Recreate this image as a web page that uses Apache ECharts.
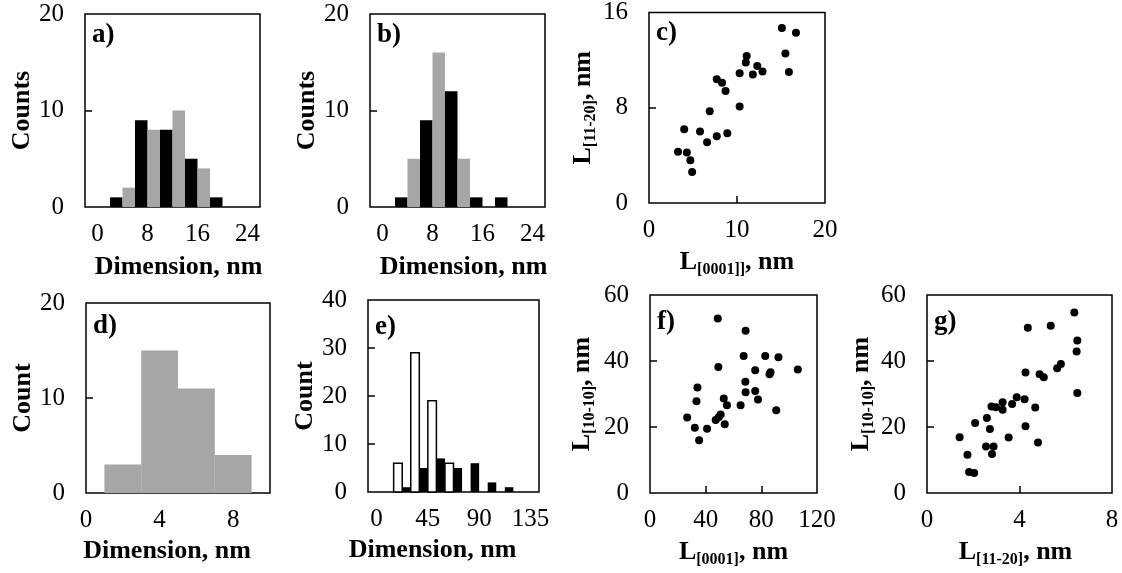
<!DOCTYPE html>
<html>
<head>
<meta charset="utf-8">
<script src="https://cdn.jsdelivr.net/npm/echarts@6/dist/echarts.min.js"></script>
<style>
html,body{margin:0;padding:0;background:#fff;}
#chart{width:1122px;height:573px;}
</style>
</head>
<body>
<div id="chart"></div>
<script>
// ---------- DATA ----------
// panel a (histogram, bins of 2 nm)
const aBlackStart = [2, 6, 10, 14, 18];
const aBlackCount = [1, 9, 8, 5, 1];
const aGrayStart = [4, 8, 12, 16];
const aGrayCount = [2, 8, 10, 4];
// panel b
const bBlackStart = [2, 6, 10, 14, 18];
const bBlackCount = [1, 9, 12, 1, 1];
const bGrayStart = [4, 8, 12, 16];
const bGrayCount = [5, 16, 5, 0];
const abBinWidth = 2;
// panel c (scatter)
const cX = [3.3, 4.0, 4.3, 4.7, 4.9, 5.8, 6.6, 6.9, 7.7, 7.7, 8.3, 8.7, 8.9, 10.3, 10.3, 11.0, 11.1, 11.8, 12.3, 12.9, 15.1, 15.5, 15.9, 16.7];
const cY = [4.3, 6.2, 4.25, 3.6, 2.6, 6.0, 5.1, 7.7, 5.6, 10.4, 10.1, 9.4, 5.85, 8.1, 10.9, 11.8, 12.35, 10.8, 11.5, 11.05, 14.7, 12.55, 11.0, 14.3];
// panel d (histogram, bins of 2 nm)
const dStart = [1, 3, 5, 7];
const dCount = [3, 15, 11, 4];
const dBinWidth = 2;
// panel e (histogram, half-bins of 7.5 nm)
const eWhiteStart = [15, 30, 45, 60];
const eWhiteCount = [6, 29, 19, 6];
const eBlackStart = [22.5, 37.5, 52.5, 67.5, 82.5, 97.5, 112.5];
const eBlackCount = [1, 5, 7, 5, 6, 2, 1];
const eBinWidth = 7.5;
// panel f (scatter)
const fX = [26.7, 32.2, 33.4, 34.1, 35.3, 41.0, 47.2, 48.7, 49.1, 49.5, 50.8, 53.0, 53.7, 55.3, 65.1, 67.3, 68.7, 68.5, 68.7, 75.6, 75.6, 77.6, 82.8, 85.9, 86.6, 90.7, 92.3, 106.2];
const fY = [22.9, 19.8, 27.8, 32.0, 16.0, 19.5, 22.1, 52.9, 38.2, 23.0, 23.8, 28.6, 20.8, 26.6, 26.6, 41.5, 49.2, 33.7, 30.5, 30.9, 37.2, 28.3, 41.5, 36.0, 36.6, 25.1, 41.1, 37.4];
// panel g (scatter)
const gX = [1.41, 1.75, 1.82, 2.04, 2.08, 2.55, 2.59, 2.72, 2.79, 2.88, 2.81, 2.98, 3.27, 3.27, 3.53, 3.68, 3.88, 4.22, 4.26, 4.26, 4.36, 4.68, 4.80, 4.87, 5.05, 5.35, 5.63, 5.79, 6.37, 6.50, 6.47, 6.50];
const gY = [16.9, 11.6, 6.4, 6.05, 21.2, 14.1, 22.7, 19.4, 26.2, 14.1, 11.8, 26.0, 27.5, 25.2, 16.8, 27.0, 29.0, 28.4, 36.5, 20.2, 50.1, 25.9, 15.3, 36.0, 35.1, 50.7, 37.8, 39.1, 54.7, 46.2, 42.9, 30.3];

// tick labels
const abXLabels = [0, 8, 16, 24];
const abYLabels = [0, 10, 20];
const cXLabels = [0, 10, 20];
const cYLabels = [0, 8, 16];
const dXLabels = [0, 4, 8];
const dYLabels = [0, 10, 20];
const eXLabels = [0, 45, 90, 135];
const eYLabels = [0, 10, 20, 30, 40];
const fXLabels = [0, 40, 80, 120];
const fgYLabels = [0, 20, 40, 60];
const gXLabels = [0, 4, 8];

// ---------- LAYOUT ----------
const FONT = 'Liberation Serif';
const TICK_FS = 25;
const grids = [
  {left: 85, top: 14, width: 175, height: 193},   // a
  {left: 370, top: 14, width: 175, height: 193},  // b
  {left: 649, top: 12, width: 176, height: 191},  // c
  {left: 86, top: 303, width: 184, height: 190},  // d
  {left: 368, top: 300, width: 171, height: 192}, // e
  {left: 650, top: 295, width: 167, height: 198}, // f
  {left: 927, top: 295, width: 185, height: 198}  // g
];

const rich = {
  m: {fontFamily: FONT, fontSize: 26, fontWeight: 'bold', color: '#000', lineHeight: 32, verticalAlign: 'middle'},
  s: {fontFamily: FONT, fontSize: 16, fontWeight: 'bold', color: '#000', lineHeight: 16, verticalAlign: 'bottom'}
};

function xAxis(i, min, max, labels, ticks, name, gap, shift) {
  const pad = shift >= 0 ? [0, 0, 0, 2 * shift] : [0, -2 * shift, 0, 0];
  return {
    gridIndex: i, type: 'value', min: min, max: max,
    axisLine: {show: false, onZero: false}, splitLine: {show: false},
    axisTick: ticks.length ? {show: true, inside: true, length: 7, customValues: ticks, lineStyle: {color: '#000', width: 1.5}} : {show: false},
    axisLabel: {customValues: labels, fontFamily: FONT, fontSize: TICK_FS, color: '#000', margin: 15},
    name: name, nameLocation: 'middle', nameGap: gap,
    nameTextStyle: {fontFamily: FONT, fontSize: 26, fontWeight: 'bold', color: '#000', rich: rich, padding: pad}
  };
}
function yAxis(i, min, max, labels, ticks, name, gap) {
  return {
    gridIndex: i, type: 'value', min: min, max: max,
    axisLine: {show: false, onZero: false}, splitLine: {show: false},
    axisTick: ticks.length ? {show: true, inside: true, length: 7, customValues: ticks, lineStyle: {color: '#000', width: 1.5}} : {show: false},
    axisLabel: {customValues: labels, fontFamily: FONT, fontSize: TICK_FS, color: '#000', margin: 21},
    name: name, nameLocation: 'middle', nameGap: gap, nameRotate: 90,
    nameTextStyle: {fontFamily: FONT, fontSize: 26, fontWeight: 'bold', color: '#000', rich: rich}
  };
}

function bars(i, starts, counts, width, fill, stroke) {
  return {
    type: 'custom', xAxisIndex: i, yAxisIndex: i,
    data: starts.map((s, k) => [s, s + width, counts[k]]),
    encode: {x: [0, 1], y: 2},
    renderItem: function (params, api) {
      const p0 = api.coord([api.value(0), api.value(2)]);
      const p1 = api.coord([api.value(1), 0]);
      return {
        type: 'rect',
        shape: {x: p0[0], y: p0[1], width: p1[0] - p0[0], height: p1[1] - p0[1]},
        style: {fill: fill, stroke: stroke || null, lineWidth: stroke ? 1.5 : 0}
      };
    }
  };
}
function dots(i, xs, ys) {
  return {
    type: 'scatter', xAxisIndex: i, yAxisIndex: i,
    data: xs.map((x, k) => [x, ys[k]]),
    symbol: 'circle', symbolSize: 8,
    itemStyle: {color: '#000', opacity: 1}
  };
}

const GRAY = '#a6a6a6';
const option = {
  animation: false,
  backgroundColor: '#fff',
  grid: grids.map(g => Object.assign({show: true, borderColor: '#000', borderWidth: 1.5, backgroundColor: 'rgba(0,0,0,0)'}, g)),
  xAxis: [
    xAxis(0, -2, 26, abXLabels, [], 'Dimension, nm', 47, 6),
    xAxis(1, -2, 26, abXLabels, [], 'Dimension, nm', 47, 6),
    xAxis(2, 0, 20, cXLabels, [10], '{m|L}{s|[0001]]}{m|, nm}', 43, 0),
    xAxis(3, 0, 10, dXLabels, [], 'Dimension, nm', 45, -11),
    xAxis(4, -7.5, 142.5, eXLabels, [], 'Dimension, nm', 45, -21),
    xAxis(5, 0, 120, fXLabels, [40, 80], '{m|L}{s|[0001]}{m|, nm}', 43, 0),
    xAxis(6, 0, 8, gXLabels, [4], '{m|L}{s|[11-20]}{m|, nm}', 43, -4)
  ],
  yAxis: [
    yAxis(0, 0, 20, abYLabels, [10], 'Counts', 48),
    yAxis(1, 0, 20, abYLabels, [10], 'Counts', 49),
    yAxis(2, 0, 16, cYLabels, [8], '{m|L}{s|[11-20]}{m|, nm}', 44),
    yAxis(3, 0, 20, dYLabels, [10], 'Count', 48),
    yAxis(4, 0, 40, eYLabels, [10, 20, 30], 'Count', 48),
    yAxis(5, 0, 60, fgYLabels, [20, 40], '{m|L}{s|[10-10]}{m|, nm}', 52),
    yAxis(6, 0, 60, fgYLabels, [20, 40], '{m|L}{s|[10-10]}{m|, nm}', 48)
  ],
  series: [
    bars(0, aBlackStart, aBlackCount, abBinWidth, '#000'),
    bars(0, aGrayStart, aGrayCount, abBinWidth, GRAY),
    bars(1, bBlackStart, bBlackCount, abBinWidth, '#000'),
    bars(1, bGrayStart, bGrayCount, abBinWidth, GRAY),
    dots(2, cX, cY),
    bars(3, dStart, dCount, dBinWidth, GRAY),
    bars(4, eWhiteStart, eWhiteCount, eBinWidth, '#fff', '#000'),
    bars(4, eBlackStart, eBlackCount, eBinWidth, '#000'),
    dots(5, fX, fY),
    dots(6, gX, gY)
  ],
  graphic: ['a)', 'b)', 'c)', 'd)', 'e)', 'f)', 'g)'].map((t, i) => ({
    type: 'text',
    left: grids[i].left + 7,
    top: grids[i].top + (i < 3 ? 8 : (i === 3 ? 10 : 14)),
    style: {text: t, fontFamily: FONT, fontSize: 27, fontWeight: 'bold', fill: '#000'}
  }))
};

const chart = echarts.init(document.getElementById('chart'), null, {renderer: 'canvas'});
chart.setOption(option);
</script>
</body>
</html>
